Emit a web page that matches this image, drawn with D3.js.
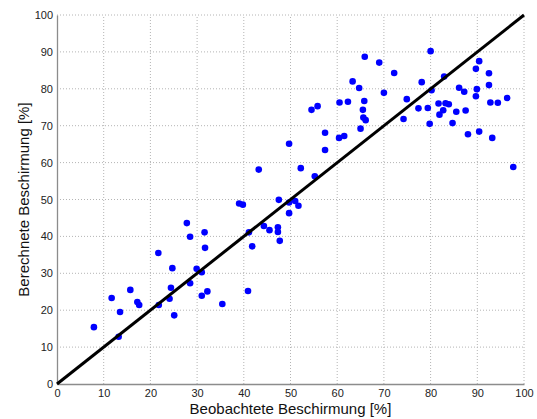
<!DOCTYPE html>
<html>
<head>
<meta charset="utf-8">
<script src="https://cdn.jsdelivr.net/npm/d3@7"></script>
<style>
  body { margin: 0; background: #fff; }
  svg { display: block; font-family: "Liberation Sans", Arial, sans-serif; }
</style>
</head>
<body>
<div id="chart"></div>
<script>
// observed / computed canopy cover [%]
var beobachtet = [
  7.9, 11.7, 13.2, 13.5, 15.7, 17.2, 17.6, 21.7, 21.8, 24.1, 24.7, 24.4, 25.1,
  27.8, 28.5, 29.9, 31.0, 31.6, 31.7, 28.5, 31.0, 32.2, 35.4, 39.0, 39.8,
  41.1, 41.8, 40.9, 43.2, 44.3, 45.5, 47.3, 47.3, 47.7, 47.5, 49.7, 49.7, 51.0, 51.7,
  49.7, 52.2, 55.2, 54.5, 55.8, 57.4, 57.4, 60.4, 61.5, 60.5, 62.3, 63.3, 64.7,
  65.0, 65.5, 65.8, 65.6, 66.1, 65.9, 69.0, 70.0, 72.2, 74.2, 74.9,
  77.4, 78.1, 79.4, 79.8, 80.0, 80.2, 81.7, 81.9, 82.7, 82.9, 83.2, 83.9,
  84.7, 85.5, 86.1, 87.2, 87.5, 88.0, 89.7, 89.7, 89.9, 90.4, 90.4,
  92.5, 92.5, 92.8, 93.2, 94.4, 96.4, 97.7
];
var berechnet = [
  15.4, 23.3, 12.8, 19.5, 25.5, 22.2, 21.4, 35.5, 21.4, 23.1, 31.4, 26.1, 18.6,
  43.6, 39.9, 31.2, 30.3, 41.1, 36.9, 27.3, 23.9, 25.1, 21.7, 48.9, 48.6,
  41.1, 37.3, 25.2, 58.1, 42.8, 41.7, 42.5, 41.2, 38.8, 49.9, 49.2, 46.3, 49.6, 48.3,
  65.1, 58.5, 56.3, 74.3, 75.3, 68.1, 63.4, 66.7, 67.2, 76.3, 76.5, 82.0, 80.2,
  69.2, 74.3, 76.7, 72.2, 71.5, 88.7, 87.1, 78.9, 84.3, 71.8, 77.2,
  74.7, 81.8, 74.8, 70.5, 90.2, 79.6, 76.0, 73.0, 74.2, 83.3, 76.1, 75.8,
  70.7, 73.8, 80.3, 79.2, 74.1, 67.7, 85.4, 78.0, 79.9, 87.5, 68.4,
  84.2, 81.0, 76.3, 66.7, 76.2, 77.5, 58.8
];
var ticks = [0, 10, 20, 30, 40, 50, 60, 70, 80, 90, 100];
var diagonale = [0, 100];

var width = 537, height = 419;
var margin = {top: 15, right: 13, bottom: 35, left: 57};

var svg = d3.select("#chart").append("svg")
    .attr("width", width)
    .attr("height", height);

var x = d3.scaleLinear().domain([0, 100]).range([margin.left, width - margin.right]);
var y = d3.scaleLinear().domain([0, 100]).range([height - margin.bottom, margin.top]);

// dotted grid
svg.append("g").selectAll("line.gx")
    .data(ticks.slice(1))
    .enter().append("line")
    .attr("x1", function(d) { return x(d); })
    .attr("x2", function(d) { return x(d); })
    .attr("y1", y(0))
    .attr("y2", y(100))
    .attr("stroke", "#b4b4b4")
    .attr("stroke-width", 1)
    .attr("stroke-dasharray", "1,2");

svg.append("g").selectAll("line.gy")
    .data(ticks.slice(1))
    .enter().append("line")
    .attr("y1", function(d) { return y(d); })
    .attr("y2", function(d) { return y(d); })
    .attr("x1", x(0))
    .attr("x2", x(100))
    .attr("stroke", "#b4b4b4")
    .attr("stroke-width", 1)
    .attr("stroke-dasharray", "1,2");

// axes
var xAxis = svg.append("g")
    .attr("transform", "translate(0," + y(0) + ")")
    .call(d3.axisBottom(x).tickValues(ticks).tickSize(0).tickPadding(5));
var yAxis = svg.append("g")
    .attr("transform", "translate(" + x(0) + ",0)")
    .call(d3.axisLeft(y).tickValues(ticks).tickSize(0).tickPadding(4));

[xAxis, yAxis].forEach(function(a) {
    a.select(".domain").attr("stroke", "#8c8c8c").attr("stroke-width", 1.3);
    a.selectAll("text").attr("fill", "#222").style("font-size", "11px")
        .style("font-family", "Liberation Sans, Arial, sans-serif");
});

// points
svg.append("g").selectAll("circle")
    .data(beobachtet)
    .enter().append("circle")
    .attr("cx", function(d) { return x(d); })
    .attr("cy", function(d, i) { return y(berechnet[i]); })
    .attr("r", 3.3)
    .attr("fill", "#0000ff");

// 1:1 line
svg.append("line")
    .attr("x1", x(diagonale[0]))
    .attr("y1", y(diagonale[0]))
    .attr("x2", x(diagonale[1]))
    .attr("y2", y(diagonale[1]))
    .attr("stroke", "#000")
    .attr("stroke-width", 3);

// labels
svg.append("text")
    .attr("x", (x(0) + x(100)) / 2)
    .attr("y", 414)
    .attr("text-anchor", "middle")
    .style("font-size", "15px")
    .attr("fill", "#111")
    .text("Beobachtete Beschirmung [%]");

svg.append("text")
    .attr("transform", "translate(29," + ((y(0) + y(100)) / 2) + ") rotate(-90)")
    .attr("text-anchor", "middle")
    .style("font-size", "15px")
    .attr("fill", "#111")
    .text("Berechnete Beschirmung [%]");
</script>
</body>
</html>
